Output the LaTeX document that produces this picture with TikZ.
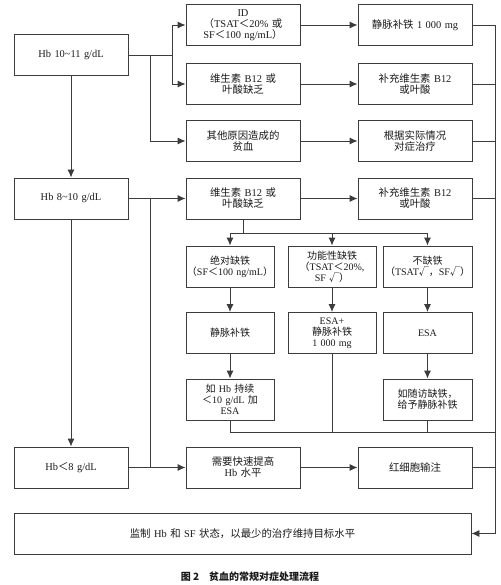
\documentclass[tikz,border=0pt]{standalone}
\usepackage{fontspec}
\setmainfont{Liberation Serif}
\newfontfamily\cjk{Noto Sans CJK SC}
\usetikzlibrary{arrows.meta}
\newcommand{\C}[1]{{\cjk #1}}
\definecolor{lc}{HTML}{3C3C3C}
\definecolor{tc}{HTML}{1A1A1A}
\begin{document}
\begin{tikzpicture}[x=1pt,y=-1pt,
  box/.style={draw=lc,line width=0.9pt,text width=112pt,minimum height=41pt,inner xsep=1pt,inner ysep=0pt,align=center,text=tc,font=\fontsize{10.4}{11}\selectfont},
  sbox/.style={box,text width=86pt,font=\fontsize{10}{11}\selectfont},
  conn/.style={draw=lc,line width=0.9pt},
  arr/.style={conn,-{Latex[length=8pt,width=7pt]}}]
\useasboundingbox (0,0) rectangle (500,585);
% left column
\node[box] (A1) at (71,55) {Hb 10\textasciitilde11 g/dL};
\node[box] (A2) at (71,198.5) {Hb 8\textasciitilde10 g/dL};
\node[box] (A3) at (71,467.5) {Hb\C{＜}8 g/dL};
% column B
\node[box] (B1) at (243,25) {ID\\\C{（}TSAT\C{＜}20\% \C{或}\\SF\C{＜}100 ng/mL\C{）}};
\node[box] (B2) at (243,84) {\C{维生素} B12 \C{或}\\\C{叶酸缺乏}};
\node[box] (B3) at (243,141) {\C{其他原因造成的}\\\C{贫血}};
\node[box] (B4) at (243,198.5) {\C{维生素} B12 \C{或}\\\C{叶酸缺乏}};
\node[box] (B5) at (243,467.5) {\C{需要快速提高}\\Hb \C{水平}};
% column C
\node[box] (C1) at (415,25) {\C{静脉补铁} 1 000 mg};
\node[box] (C2) at (415,84) {\C{补充维生素} B12\\\C{或叶酸}};
\node[box] (C3) at (415,141) {\C{根据实际情况}\\\C{对症治疗}};
\node[box] (C4) at (415,198.5) {\C{补充维生素} B12\\\C{或叶酸}};
\node[box] (C5) at (415,467.5) {\C{红细胞输注}};
% lower grid
\node[sbox] (D1) at (230,266.5) {\C{绝对缺铁}\\\makebox[86pt][c]{\C{（}SF\C{＜}100~ng/mL\C{）}}};
\node[sbox] (D2) at (332,266.5) {\C{功能性缺铁}\\\C{（}TSAT\C{＜}20\%,\\SF \C{√）}};
\node[sbox,text width=87pt] (D3) at (427.5,266.5) {\C{不缺铁}\\\C{（}TSAT\C{√，}SF\C{√）}};
\node[sbox] (E1) at (230,333) {\C{静脉补铁}};
\node[sbox] (E2) at (332,333) {ESA+\\\C{静脉补铁}\\1 000 mg};
\node[sbox,text width=87pt] (E3) at (427.5,333) {ESA};
\node[sbox] (F1) at (230,399.5) {\C{如} Hb \C{持续}\\\C{＜}10 g/dL \C{加}\\ESA};
\node[sbox,text width=87pt] (F3) at (427.5,399.5) {\C{如随访缺铁，}\\\C{给予静脉补铁}};
% monitor
\node[box,text width=455pt] (M) at (242.5,533.5) {\C{监制} Hb \C{和} SF \C{状态，以最少的治疗维持目标水平}};
% caption
\node[text=tc,font=\cjk\bfseries\fontsize{10}{11}\selectfont] (cap) at (250,577) {图 2\quad 贫血的常规对症处理流程};
% junction coordinates
\coordinate (j1) at (172,55);
\coordinate (j2) at (150,55);
\coordinate (j3) at (150,198.5);
\coordinate (j4) at (150,467.5);
\coordinate (dist) at (243,233);
\coordinate (br) at (495,432);
\coordinate (rt) at (495,25);
\coordinate (rb) at (495,533.5);
% left connections
\draw[conn] (A1.east) -- (j1);
\draw[arr] (j1) |- (B1.west);
\draw[arr] (j1) |- (B2.west);
\draw[arr] (j2) |- (B3.west);
\draw[arr] (A1) -- (A2);
\draw[arr] (A2.east) -- (B4.west);
\draw[arr] (j3) |- (B5.west);
\draw[conn] (A3.east) -- (j4);
\draw[arr] (A2) -- (A3);
% B to C
\draw[arr] (B1) -- (C1);
\draw[arr] (B2) -- (C2);
\draw[arr] (B3) -- (C3);
\draw[arr] (B4) -- (C4);
\draw[arr] (B5) -- (C5);
% distribution
\draw[conn] (B4.south) -- (dist);
\draw[arr] (dist) -| (D1.north);
\draw[arr] (dist) -| (D2.north);
\draw[arr] (dist) -| (D3.north);
\draw[arr] (D1) -- (E1);
\draw[arr] (E1) -- (F1);
\draw[arr] (D2) -- (E2);
\draw[arr] (D3) -- (E3);
\draw[arr] (E3) -- (F3);
% collection line
\draw[conn] (F1.south) -- (F1.south |- br) -- (br);
\draw[conn] (E2.south) -- (E2.south |- br);
\draw[conn] (F3.south) -- (F3.south |- br);
% right line
\draw[conn] (C1.east) -- (rt) -- (rb);
\draw[conn] (C2.east) -- (C2.east -| rt);
\draw[conn] (C3.east) -- (C3.east -| rt);
\draw[conn] (C4.east) -- (C4.east -| rt);
\draw[conn] (C5.east) -- (C5.east -| rt);
\draw[arr] (rb) -- (M.east);
\end{tikzpicture}
\end{document}
